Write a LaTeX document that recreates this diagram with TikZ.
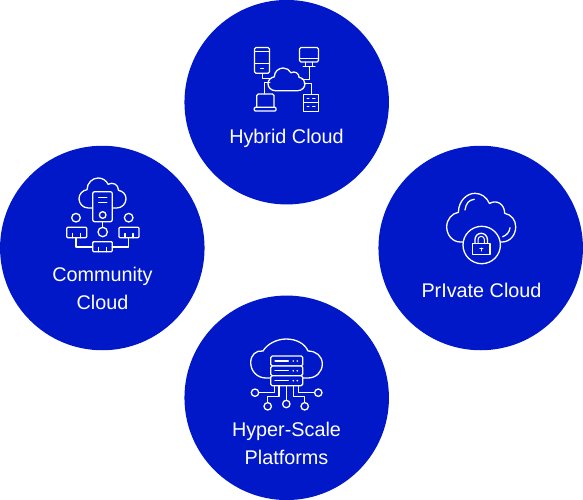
\documentclass[tikz,border=0pt]{standalone}
\usepackage{fontspec}
\setmainfont{Liberation Sans}
\definecolor{bubbleblue}{HTML}{0018C8}
\tikzset{
  bubble/.style={circle, fill=bubbleblue, minimum size=204.5pt, inner sep=0pt},
  caption/.style={text=white, font=\fontsize{19.8}{28}\selectfont, align=center, inner sep=0pt},
  icon/.style={draw=white, line width=1.3pt, line join=round, line cap=round},
  iconthin/.style={icon, line width=1pt},
  iconfill/.style={icon, fill=bubbleblue},
  port/.style={circle, draw=white, line width=1.3pt, fill=bubbleblue, inner sep=0pt}
}
\newcommand{\cloudicon}[4]{
  \draw[iconfill, shift={(#1,#2)}, xscale=#3, yscale=#4]
    (0.2,1) .. controls (0.08,1) and (0,0.85) .. (0,0.69)
    .. controls (0,0.53) and (0.08,0.41) .. (0.17,0.39)
    .. controls (0.17,0.16) and (0.29,0) .. (0.41,0)
    .. controls (0.5,0) and (0.58,0.08) .. (0.62,0.21)
    .. controls (0.72,0.12) and (0.84,0.22) .. (0.84,0.41)
    .. controls (0.94,0.44) and (1,0.55) .. (1,0.69)
    .. controls (1,0.85) and (0.92,1) .. (0.8,1) -- cycle;
}
\begin{document}
\begin{tikzpicture}[x=1pt, y=-1pt]
  \useasboundingbox (0,0) rectangle (583,500);

  \node[bubble] (hybrid) at (286.7,102.2) {};
  \node[bubble] (community) at (102.3,248) {};
  \node[bubble] (private) at (480.7,248) {};
  \node[bubble] (hyper) at (286.7,397.8) {};

  \node[caption] (hybridtext) at (286.5,138.5) {Hybrid Cloud};
  \node[caption] (communitytext) at (102.5,288) {Community\\Cloud};
  \node[caption] (privatetext) at (481.5,290.5) {PrIvate Cloud};
  \node[caption] (hypertext) at (286.5,443) {Hyper-Scale\\Platforms};

  \cloudicon{268}{68}{37}{22.7}
  \draw[icon, rounded corners=1.5pt] (254.5,47.5) rectangle (269.5,73.3);
  \draw[iconthin] (254.5,52) -- (269.5,52);
  \draw[iconthin] (254.5,64) -- (269.5,64);
  \draw[iconthin] (260.5,68.7) -- (263.5,68.7);
  \draw[icon, rounded corners=1.5pt] (299.5,47.5) rectangle (318.5,62);
  \draw[iconthin] (299.5,58.5) -- (318.5,58.5);
  \draw[iconthin] (305.7,62) -- (305.7,66.7);
  \draw[iconthin] (312.3,62) -- (312.3,66.7);
  \draw[iconthin] (303,66.7) -- (315,66.7);
  \draw[iconthin] (309,66.7) -- (309,79.3) -- (302,79.3);
  \draw[iconthin] (262,73.3) -- (262,78.7) -- (271,78.7);
  \draw[iconthin] (270,82.7) -- (264,82.7) -- (264,94);
  \draw[icon, rounded corners=1.5pt] (256.7,107.3) -- (256.7,94) -- (274,94) -- (274,107.3);
  \draw[icon, rounded corners=1pt] (254.3,107.3) rectangle (276,111);
  \draw[icon] (303.3,94.3) rectangle (318.7,111.3);
  \draw[iconthin] (303.3,102.3) -- (318.7,102.3);
  \draw[iconthin] (307,98.3) -- (309,98.3);
  \draw[iconthin] (312.5,98.3) -- (315,98.3);
  \draw[iconthin] (307,106.7) -- (309,106.7);
  \draw[iconthin] (312.5,106.7) -- (315,106.7);
  \draw[iconthin] (304,83.3) -- (311,83.3) -- (311,94.3);

  \cloudicon{79}{178}{47}{30}
  \draw[iconfill, rounded corners=2pt] (92.7,191.7) rectangle (112.3,221.7);
  \draw[icon] (98.7,197.3) -- (106.7,197.3);
  \draw[icon] (98.7,202.7) -- (106.7,202.7);
  \node[port, minimum size=6.6pt] (servergem) at (102.7,215) {};
  \node[port, minimum size=9.4pt] (midport) at (102.7,232) {};
  \node[port, minimum size=8.6pt] (leftport) at (76,217.7) {};
  \node[port, minimum size=8.6pt] (rightport) at (128.7,217.7) {};
  \draw[icon] (102.7,221.7) -- (midport);
  \draw[icon] (76,237.7) -- (76,247) -- (92.7,247);
  \draw[icon] (128.7,237.7) -- (128.7,247) -- (112.3,247);
  \draw[icon, rounded corners=1pt] (66.7,227.3) rectangle (86.7,237.7);
  \draw[icon, rounded corners=1pt] (119,227.3) rectangle (139,237.7);
  \draw[icon, rounded corners=1pt] (92.7,241.7) rectangle (112.3,251.7);
  \foreach \tick in {72.7,80.7,125,133} {
    \draw[icon] (\tick,233.5) -- (\tick,237.7);
  }
  \foreach \tick in {98.7,106.3} {
    \draw[icon] (\tick,247.5) -- (\tick,251.7);
  }

  \cloudicon{446.7}{193.3}{69}{48.7}
  \draw[icon] (465,210) .. controls (466,203) and (469,200) .. (474.3,199.3);
  \draw[icon] (502.7,236.7) .. controls (507,235) and (509.5,232) .. (510,227.7);
  \node[port, minimum size=37.4pt] (lockring) at (481.7,245) {};
  \draw[icon] (472.7,243.3) rectangle (490,254.7);
  \draw[icon] (475,243.3) -- (475,239.5) arc[start angle=180, end angle=360, radius=6.2] -- (487.4,243.3);
  \draw[iconthin] (478,243.3) -- (478,239.5) arc[start angle=180, end angle=360, radius=3.2] -- (484.4,243.3);
  \draw[iconthin] (479.8,248) -- (482.8,248);
  \draw[iconthin] (481.3,248) -- (481.3,251);

  \draw[iconfill] (266,378) .. controls (257,378) and (250.7,371) .. (250.7,362.5)
    .. controls (250.7,355) and (256,350) .. (263,351)
    .. controls (267,344) and (277,339) .. (286,339)
    .. controls (297,339) and (305,344) .. (308,351)
    .. controls (316,351) and (322.3,356) .. (322.3,364)
    .. controls (322.3,372) and (316,378) .. (308,378) -- cycle;
  \draw[iconfill, rounded corners=1.5pt] (270.7,356) rectangle (302.7,366);
  \draw[iconfill, rounded corners=1.5pt] (270.7,366) rectangle (302.7,375.7);
  \draw[iconfill, rounded corners=1.5pt] (270.7,375.7) rectangle (302.7,385.7);
  \foreach \rowy in {361,370.8,380.7} {
    \draw[icon] (275,\rowy) -- (288.3,\rowy);
    \fill[white] (293.3,\rowy) circle (0.9pt);
    \fill[white] (297.3,\rowy) circle (0.9pt);
  }
  \node[port, minimum size=7.4pt] (farleft) at (255,392.7) {};
  \node[port, minimum size=7.4pt] (farright) at (318.3,392.7) {};
  \node[port, minimum size=7.4pt] (lowleft) at (267.7,406.3) {};
  \node[port, minimum size=7.4pt] (lowmid) at (286.3,404) {};
  \node[port, minimum size=7.4pt] (lowright) at (304.7,406.3) {};
  \draw[icon] (farleft) -- (274.3,392.7) -- (274.3,385.7);
  \draw[icon] (farright) -- (298.3,392.7) -- (298.3,385.7);
  \draw[icon] (279,385.7) -- (279,396.7) -- (267.7,396.7) -- (lowleft);
  \draw[icon] (293.7,385.7) -- (293.7,396.7) -- (304.7,396.7) -- (lowright);
  \draw[icon] (286.3,385.7) -- (lowmid);
\end{tikzpicture}
\end{document}
